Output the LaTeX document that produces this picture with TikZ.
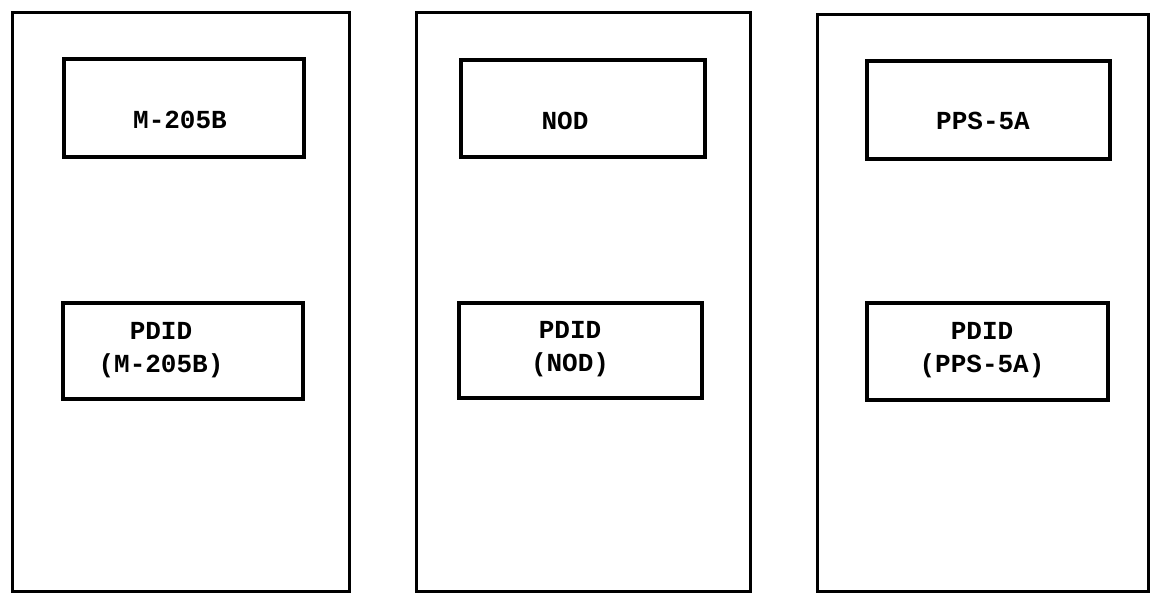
\documentclass[tikz,border=0pt]{standalone}
\usepackage{fontspec}
\newfontfamily\typefont{Liberation Mono}
\begin{document}
\begin{tikzpicture}[x=1pt,y=-1pt,
  panel/.style={draw, line width=3pt, inner sep=0pt, outer sep=0pt},
  unitbox/.style={draw, line width=3.3pt, inner sep=0pt, outer sep=0pt},
  tag/.style={font=\typefont\bfseries\fontsize{26}{33}\selectfont, align=center, inner sep=0pt}]
  \useasboundingbox (0,0) rectangle (1151,593);

  % three equipment panels
  \node[panel, minimum width=337pt, minimum height=579pt] (p1) at (180.5,302) {};
  \node[panel, minimum width=334pt, minimum height=579pt] (p2) at (583,302) {};
  \node[panel, minimum width=331pt, minimum height=577pt] (p3) at (982.5,303) {};

  % upper boxes: sensors
  \node[unitbox, minimum width=240pt, minimum height=98pt] (s1) at (184,108) {};
  \node[unitbox, minimum width=244pt, minimum height=97pt] (s2) at (583,108.5) {};
  \node[unitbox, minimum width=243pt, minimum height=98pt] (s3) at (988.5,110) {};

  % lower boxes: PDID units
  \node[unitbox, minimum width=240pt, minimum height=96pt] (d1) at (183,351) {};
  \node[unitbox, minimum width=243pt, minimum height=95pt] (d2) at (580.5,350.5) {};
  \node[unitbox, minimum width=241pt, minimum height=97pt] (d3) at (987.5,351.5) {};

  % labels
  \node[tag] (t1) at (180,120) {M-205B};
  \node[tag] (t2) at (565,121) {NOD};
  \node[tag] (t3) at (983,121) {PPS-5A};
  \node[tag] (u1) at (161,350) {PDID\\(M-205B)};
  \node[tag] (u2) at (570,349) {PDID\\(NOD)};
  \node[tag] (u3) at (982,350) {PDID\\(PPS-5A)};
\end{tikzpicture}
\end{document}
